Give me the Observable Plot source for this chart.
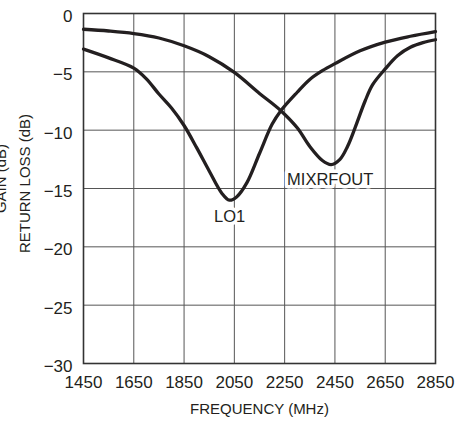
<!DOCTYPE html>
<html><head><meta charset="utf-8">
<script src="https://cdn.jsdelivr.net/npm/d3@7"></script>
<script src="https://cdn.jsdelivr.net/npm/@observablehq/plot@0.6"></script>
<style>body{margin:0;background:#fff;overflow:hidden}</style>
</head><body><div id="chart"></div>
<script>
const xTicks = [1450, 1650, 1850, 2050, 2250, 2450, 2650, 2850];
const yTicks = [0, -5, -10, -15, -20, -25, -30];

const lo1Freq = [1450, 1550, 1650, 1700, 1750, 1800, 1850, 1900, 1950, 2000, 2030, 2060, 2100, 2150, 2200, 2235, 2300, 2350, 2400, 2450, 2550, 2650, 2750, 2850];
const lo1Loss = [-3.05, -3.8, -4.68, -5.6, -6.9, -8.1, -9.6, -11.5, -13.5, -15.4, -16.0, -15.7, -14.5, -12.0, -9.5, -8.33, -6.75, -5.65, -4.9, -4.3, -3.2, -2.45, -1.95, -1.55];

const mixFreq = [1450, 1550, 1650, 1750, 1850, 1950, 2050, 2150, 2235, 2300, 2350, 2400, 2435, 2470, 2500, 2530, 2570, 2600, 2650, 2700, 2750, 2800, 2850];
const mixLoss = [-1.35, -1.5, -1.72, -2.1, -2.77, -3.7, -5.05, -6.85, -8.33, -9.8, -11.4, -12.6, -12.95, -12.5, -11.4, -9.8, -7.5, -6.1, -4.75, -3.6, -2.9, -2.5, -2.25];

const labelText = ["LO1", "MIXRFOUT"];
const labelFreq = [2031, 2431];
const labelLoss = [-17.45, -14.25];

const yLabels = ["GAIN (dB)", "RETURN LOSS (dB)"];

const lo1 = lo1Freq.map((f, i) => ({f, v: lo1Loss[i]}));
const mix = mixFreq.map((f, i) => ({f, v: mixLoss[i]}));
const labels = labelText.map((t, i) => ({t, f: labelFreq[i], v: labelLoss[i]}));

const FONT = "'Liberation Sans', Arial, Helvetica, sans-serif";
const INK = "#231f20";

const chart = Plot.plot({
  width: 471,
  height: 421,
  marginLeft: 83,
  marginRight: 36,
  marginTop: 13,
  marginBottom: 58,
  style: {fontFamily: FONT, fontSize: "16px", color: INK, background: "#fff"},
  x: {domain: [1450, 2850]},
  y: {domain: [-30, 0]},
  marks: [
    Plot.gridX(xTicks, {stroke: "#555", strokeOpacity: 1, strokeWidth: 1}),
    Plot.gridY(yTicks, {stroke: "#555", strokeOpacity: 1, strokeWidth: 1}),
    Plot.frame({stroke: "#333", strokeWidth: 1.6}),
    Plot.axisX({ticks: xTicks, tickSize: 0, tickPadding: 12, fontSize: 17, label: null, tickFormat: d => String(d), fill: INK}),
    Plot.axisY({ticks: yTicks, tickSize: 0, tickPadding: 11, fontSize: 17, label: null, dy: 3, fill: INK}),
    Plot.line(lo1, {x: "f", y: "v", curve: "catmull-rom", stroke: INK, strokeWidth: 3.3}),
    Plot.line(mix, {x: "f", y: "v", curve: "catmull-rom", stroke: INK, strokeWidth: 3.3}),
    Plot.text(labels, {x: "f", y: "v", text: "t", fontSize: 16.5, fill: INK, stroke: "white", strokeWidth: 7, lineAnchor: "middle"}),
    Plot.text(["FREQUENCY (MHz)"], {frameAnchor: "bottom", dy: 46, lineAnchor: "middle", textAnchor: "middle", fontSize: 15, fill: INK}),
    Plot.text([yLabels[1]], {frameAnchor: "left", dx: -58, dy: -5, rotate: -90, lineAnchor: "middle", textAnchor: "middle", fontSize: 15, fill: INK}),
    Plot.text([yLabels[0]], {frameAnchor: "left", dx: -82, dy: -10, rotate: -90, lineAnchor: "middle", textAnchor: "middle", fontSize: 15, fill: INK})
  ]
});
document.getElementById("chart").appendChild(chart);
</script>
</body></html>
